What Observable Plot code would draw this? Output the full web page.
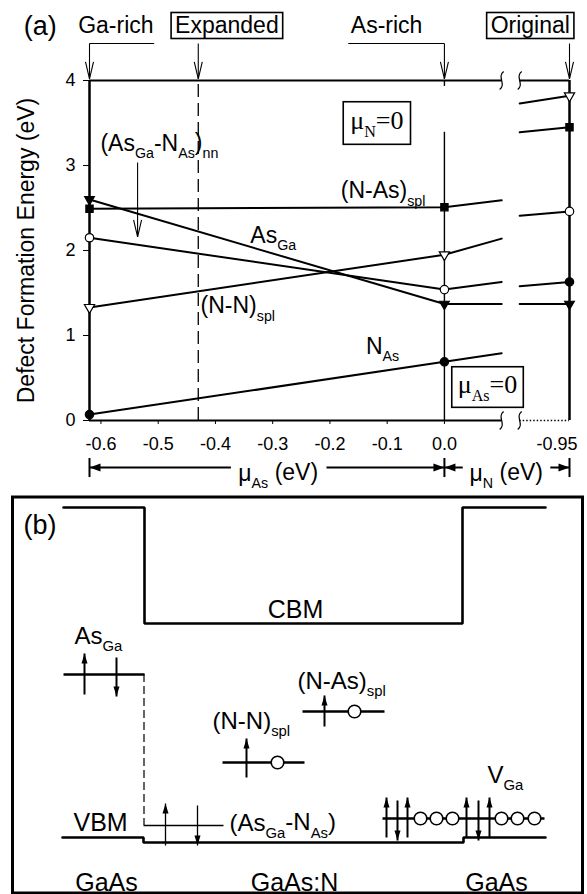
<!DOCTYPE html>
<html>
<head>
<meta charset="utf-8">
<script src="https://cdn.jsdelivr.net/npm/d3@7"></script>
<script src="https://cdn.jsdelivr.net/npm/@observablehq/plot@0.6"></script>
<style>
  html, body { margin: 0; padding: 0; background: #fff; }
  #fig { width: 587px; height: 894px; overflow: hidden; }
  #fig svg { display: block; }
</style>
</head>
<body>
<div id="fig"></div>
<script>
// ================= Panel (a): defect formation energies =================
const defects    = ["As_{Ga}", "(N-As)_{spl}", "(As_{Ga}-N_{As})_{nn}", "(N-N)_{spl}", "N_{As}"];
const muAsGaRich = -0.62;            // Ga-rich limit (eV)
const muAsAsRich = 0.0;              // As-rich limit (eV)
const muNOriginal = -0.95;           // "Original" N chemical potential (eV)
const muNBreak   = [-0.10, -0.863];  // part of the mu_N axis hidden by the break
const muExpanded = -0.43;            // "Expanded" limit
const eGaRich    = [2.60, 2.49, 2.15, 1.33, 0.07];  // at mu_As = -0.62
const eAsRich    = [1.37, 2.51, 1.54, 1.95, 0.69];  // at mu_As = 0, mu_N = 0
const eBreakLo   = [1.37, 2.59, 1.63, 2.14, 0.79];  // at mu_N = -0.10
const eBreakHi   = [1.37, 3.39, 2.41, 3.73, 1.58];  // at mu_N = -0.863
const eOriginal  = [1.37, 3.45, 2.46, 3.82, 1.63];  // at mu_N = -0.95
const muAsTicks  = [-0.6, -0.5, -0.4, -0.3, -0.2, -0.1, 0.0];
const energyTicks = [0, 1, 2, 3, 4];

const limitLabels      = ["Ga-rich", "As-rich"];
const boxedLimitLabels = ["Expanded", "Original"];
const muZeroLabels     = ["μ_{N}=0", "μ_{As}=0"];
const axisNames        = ["μ_{As} (eV)", "μ_{N} (eV)"];
const yLabel           = "Defect Formation Energy (eV)";

// ================= Panel (b): level schematic =================
const bandX      = [63, 144, 144, 462, 462, 545];
const cbmE       = [387, 387, 271, 271, 387, 387];
const vbmX       = [62, 143, 143, 463, 463, 545];
const vbmE       = [57, 57, 52, 52, 57, 57];
const levelNames = ["As_{Ga}", "(As_{Ga}-N_{As})", "(N-N)_{spl}", "(N-As)_{spl}", "V_{Ga}"];
const levelX1    = [63, 143, 222, 302, 382];
const levelX2    = [144, 223, 304, 384, 544];
const levelE     = [220, 69, 132, 183, 76];
const spinUpX    = [84, 165, 246, 324, 386, 407, 466, 489];
const spinUpLo   = [200, 49, 117, 168, 57, 57, 57, 57];
const spinUpHi   = [241, 91, 156, 199, 97, 97, 97, 97];
const spinDnX    = [116, 197, 397, 478];
const spinDnHi   = [237, 89, 94, 94];
const spinDnLo   = [198, 49, 54, 54];
const holeX      = [277, 354, 420, 436, 452, 501, 517, 534];
const holeE      = [132, 183, 76, 76, 76, 76, 76, 76];
const regionNames = ["GaAs", "GaAs:N", "GaAs"];

// ---------------------------------------------------------------------
const sans  = "'Liberation Sans', Arial, Helvetica, sans-serif";
const serif = "'Liberation Serif', 'Times New Roman', serif";
const brk = 0.0315;  // display width of the axis break (in eV of the mu_As scale)
function xN(mu) { return mu >= muNBreak[0] ? -mu : -muNBreak[0] + brk + (muNBreak[1] - mu); }
const xRight = xN(muNOriginal), xCutLo = xN(muNBreak[0]), xCutHi = xN(muNBreak[1]);

const lineRows = defects.flatMap((d, i) => [
  {d, s: "a", x: muAsGaRich, e: eGaRich[i]},
  {d, s: "a", x: muAsAsRich, e: eAsRich[i]},
  {d, s: "a", x: xCutLo, e: eBreakLo[i]},
  {d, s: "b", x: xCutHi, e: eBreakHi[i]},
  {d, s: "b", x: xRight, e: eOriginal[i]}
]);
const markerRows = defects.flatMap((d, i) => [
  {i, x: muAsGaRich, e: eGaRich[i]},
  {i, x: muAsAsRich, e: eAsRich[i]},
  {i, x: xRight, e: eOriginal[i]}
]);
const markerStyle = [
  {symbol: "triangle", rotate: 180, fill: "black", r: 3.6},
  {symbol: "square", rotate: 0, fill: "black", r: 4.1},
  {symbol: "circle", rotate: 0, fill: "white", r: 4.2},
  {symbol: "triangle", rotate: 180, fill: "white", r: 3.8},
  {symbol: "circle", rotate: 0, fill: "black", r: 4.2}
];

// custom symbols
const vHead = {draw(c) { c.moveTo(-4, -17); c.lineTo(0, 0); c.lineTo(4, -17); }};
const headWide = {draw(c) { c.moveTo(0, 0); c.lineTo(4, 11); c.lineTo(-4, 11); c.closePath(); }};
const headNarrow = {draw(c) { c.moveTo(0, 0); c.lineTo(3, 10); c.lineTo(-3, 10); c.closePath(); }};
const breakMark = {draw(c) { c.moveTo(2, -9); c.bezierCurveTo(-5, -4, 5, 4, -2, 9); }};

// annotation geometry (data units of panel a)
const yAnnBase = 4.553, yAnnLine = 4.435, yAnnTip = 4.02;
const topText = [
  {t: limitLabels[0], x: -0.574}, {t: limitLabels[1], x: -0.101}
];
const topBoxed = [
  {t: boxedLimitLabels[0], x: -0.380}, {t: boxedLimitLabels[1], x: 0.150}
];
const annArrows = [
  {x: muAsGaRich, y1: yAnnLine, y2: yAnnTip},
  {x: muExpanded, y1: yAnnLine, y2: yAnnTip},
  {x: muAsAsRich, y1: yAnnLine, y2: yAnnTip},
  {x: xRight, y1: yAnnLine, y2: yAnnTip},
  {x: -0.536, y1: 3.035, y2: 2.16}
];
const annLinks = [{x1: -0.507, x2: muAsGaRich}, {x1: -0.168, x2: muAsAsRich}];
const defectLabelPos = [
  {t: defects[0], x: -0.339, y: 2.094},
  {t: defects[1], x: -0.181, y: 2.612},
  {t: defects[2], x: -0.601, y: 3.176},
  {t: defects[3], x: -0.426, y: 1.259},
  {t: defects[4], x: -0.137, y: 0.788}
];
const muZeroPos = [{t: muZeroLabels[0], x: -0.118, y: 3.53}, {t: muZeroLabels[1], x: 0.0753, y: 0.424}];
const rowBars = [muAsGaRich, muAsAsRich, xRight];
const rowY = -0.553;
const rowArrows = [
  {from: -0.373, to: muAsGaRich}, {from: -0.206, to: muAsAsRich},
  {from: 0.032, to: muAsAsRich}, {from: 0.185, to: xRight}
];
const rowText = [{t: axisNames[0], x: -0.36}, {t: axisNames[1], x: 0.044}];

const chartA = Plot.plot({
  width: 587, height: 495,
  marginLeft: 89, marginRight: 18, marginTop: 80, marginBottom: 75,
  x: {domain: [muAsGaRich, xRight]},
  y: {domain: [0, 4]},
  style: {fontFamily: sans, fontSize: "18px", color: "black", background: "white", overflow: "visible"},
  marks: [
    Plot.ruleX([muExpanded], {y1: 0, y2: 4, strokeWidth: 1.3, strokeDasharray: "13,6"}),
    Plot.ruleX([muAsAsRich], {y1: 0, y2: 3.39, strokeWidth: 1.4}),
    Plot.ruleX([muAsAsRich], {y1: 3.93, y2: 4, strokeWidth: 1.4}),
    Plot.ruleX([muAsGaRich, xRight], {y1: 0, y2: 4, strokeWidth: 2.5}),
    Plot.ruleY([{a: muAsGaRich, b: xCutLo}, {a: xCutHi, b: xRight}], {y: 4, x1: "a", x2: "b", strokeWidth: 2.2}),
    Plot.ruleY([{a: muAsGaRich, b: xCutLo}], {y: 0, x1: "a", x2: "b", strokeWidth: 2}),
    Plot.ruleY([{a: xCutHi, b: xRight}], {y: 0, x1: "a", x2: "b", strokeWidth: 1.3, strokeDasharray: "1.5,2"}),
    Plot.dot([xCutLo, xCutHi].flatMap(x => [{x, y: 4}, {x, y: 0}]),
      {x: "x", y: "y", symbol: breakMark, fill: "none", stroke: "black", strokeWidth: 1.2, r: 5}),
    Plot.line(lineRows, {x: "x", y: "e", z: d => d.d + d.s, stroke: "black", strokeWidth: 2}),
    ...markerStyle.map((m, i) => Plot.dot(markerRows.filter(r => r.i === i),
      {x: "x", y: "e", symbol: m.symbol, rotate: m.rotate, fill: m.fill, stroke: "black", strokeWidth: 1.2, r: m.r})),
    Plot.axisY({ticks: energyTicks, tickSize: 6, tickPadding: 8, tickFormat: d => String(d), label: null, fontSize: 18}),
    Plot.axisX({ticks: muAsTicks, tickSize: 4, tickPadding: 13, tickFormat: d => d.toFixed(1), label: null, fontSize: 18}),
    Plot.text([muNOriginal], {x: d => xN(d), y: 0, text: d => d.toFixed(2), textAnchor: "end", lineAnchor: "top", dx: 8, dy: 17, fontSize: 18}),
    Plot.text([yLabel], {x: -0.73, y: 2.0, rotate: -90, textAnchor: "middle", lineAnchor: "middle", fontSize: 23}),
    // panel label and top annotations
    Plot.text(["(a)"], {x: -0.735, y: 4.53, textAnchor: "start", lineAnchor: "bottom", fontSize: 27}),
    Plot.text(topText, {x: "x", y: yAnnBase, text: "t", lineAnchor: "bottom", fontSize: 23}),
    Plot.text(topBoxed, {x: "x", y: yAnnBase, text: "t", lineAnchor: "bottom", fontSize: 23}),
    Plot.link(annLinks, {x1: "x1", x2: "x2", y1: yAnnLine, y2: yAnnLine, strokeWidth: 1.1}),
    Plot.link(annArrows, {x1: "x", x2: "x", y1: "y1", y2: "y2", strokeWidth: 1.1}),
    Plot.dot(annArrows, {x: "x", y: "y2", symbol: vHead, fill: "none", stroke: "black", strokeWidth: 1.1, r: 5}),
    Plot.text(defectLabelPos, {x: "x", y: "y", text: "t", textAnchor: "start", lineAnchor: "bottom", fontSize: 23}),
    Plot.text(muZeroPos, {x: "x", y: "y", text: "t", fontFamily: serif, fontSize: 26}),
    // mu axis row
    Plot.ruleX(rowBars, {y1: -0.447, y2: -0.671, strokeWidth: 2}),
    Plot.link(rowArrows, {x1: "from", x2: "to", y1: rowY, y2: rowY, strokeWidth: 2}),
    Plot.dot(rowArrows, {x: "to", y: rowY, symbol: headWide, rotate: d => d.to < d.from ? -90 : 90, fill: "black", stroke: "none", r: 5}),
    Plot.text(rowText, {x: "x", y: -0.706, text: "t", textAnchor: "start", lineAnchor: "bottom", fontSize: 23})
  ]
});

// ---------- Panel (b) ----------
const cbmRows = bandX.map((x, i) => ({x, e: cbmE[i]}));
const vbmRows = vbmX.map((x, i) => ({x, e: vbmE[i]}));
const levelRows = levelNames.map((n, i) => ({n, x1: levelX1[i], x2: levelX2[i], e: levelE[i]}));
const upRows = spinUpX.map((x, i) => ({x, lo: spinUpLo[i], hi: spinUpHi[i], thin: i === 1}));
const dnRows = spinDnX.map((x, i) => ({x, lo: spinDnLo[i], hi: spinDnHi[i], thin: i === 1}));
const holeRows = holeX.map((x, i) => ({x, e: holeE[i]}));
const labelsB = [
  {t: "(b)", x: 23, e: 361, a: "start", f: 27},
  {t: "CBM", x: 295, e: 277, a: "middle", f: 25},
  {t: levelNames[0], x: 74, e: 251, a: "start", f: 24},
  {t: levelNames[3], x: 297, e: 206, a: "start", f: 24},
  {t: levelNames[2], x: 212, e: 166, a: "start", f: 24},
  {t: "VBM", x: 73, e: 64, a: "start", f: 25},
  {t: levelNames[1], x: 229, e: 64, a: "start", f: 24},
  {t: levelNames[4], x: 487, e: 112, a: "start", f: 24},
  {t: regionNames[0], x: 106, e: 4, a: "middle", f: 25},
  {t: regionNames[1], x: 294, e: 4, a: "middle", f: 25},
  {t: regionNames[2], x: 496, e: 4, a: "middle", f: 25}
];

const chartB = Plot.plot({
  width: 587, height: 399,
  marginLeft: 12, marginRight: 5, marginTop: 1.5, marginBottom: 1.5,
  x: {domain: [12, 582], axis: null},
  y: {domain: [1.5, 397.5], axis: null},
  style: {fontFamily: sans, fontSize: "24px", color: "black", background: "white", overflow: "visible"},
  marks: [
    Plot.frame({strokeWidth: 3}),
    Plot.line(cbmRows, {x: "x", y: "e", strokeWidth: 2.6, strokeLinejoin: "miter"}),
    Plot.line(vbmRows, {x: "x", y: "e", strokeWidth: 2.6, strokeLinejoin: "miter"}),
    Plot.ruleX([levelX1[1] + 0.5], {y1: levelE[0], y2: levelE[1], strokeWidth: 1.2, strokeDasharray: "8,4"}),
    Plot.link(levelRows.filter((d, i) => i !== 1), {x1: "x1", x2: "x2", y1: "e", y2: "e", strokeWidth: 2.6}),
    Plot.link(levelRows.filter((d, i) => i === 1), {x1: "x1", x2: "x2", y1: "e", y2: "e", strokeWidth: 1.6}),
    Plot.link(upRows, {x1: "x", x2: "x", y1: "lo", y2: "hi", strokeWidth: d => d.thin ? 1.3 : 2}),
    Plot.dot(upRows, {x: "x", y: "hi", symbol: headNarrow, fill: "black", stroke: "none", r: 4}),
    Plot.link(dnRows, {x1: "x", x2: "x", y1: "hi", y2: "lo", strokeWidth: d => d.thin ? 1.3 : 2}),
    Plot.dot(dnRows, {x: "x", y: "lo", symbol: headNarrow, rotate: 180, fill: "black", stroke: "none", r: 4}),
    Plot.dot(holeRows, {x: "x", y: "e", r: 6.3, fill: "white", stroke: "black", strokeWidth: 1.6}),
    ...labelsB.map(l => Plot.text([l], {x: "x", y: "e", text: "t", textAnchor: l.a, lineAnchor: "bottom", fontSize: l.f}))
  ]
});

const fig = document.getElementById("fig");
fig.appendChild(chartA);
fig.appendChild(chartB);

// ---- subscripts: "_{...}" -> lowered, smaller tspans ----
const NS = "http://www.w3.org/2000/svg";
function applySubscripts(root) {
  root.querySelectorAll("text").forEach(t => {
    const s = t.textContent;
    if (!s.includes("_{")) return;
    while (t.firstChild) t.removeChild(t.firstChild);
    const re = /_\{([^}]*)\}/g;
    let last = 0, m, shifted = false;
    const add = (str, sub) => {
      if (!str) return;
      const ts = document.createElementNS(NS, "tspan");
      ts.textContent = str;
      if (sub) {
        ts.setAttribute("font-size", "0.62em");
        ts.setAttribute("dy", shifted ? "0" : "0.53em");
        shifted = true;
      } else if (shifted) {
        ts.setAttribute("dy", "-0.33em");
        shifted = false;
      }
      t.appendChild(ts);
    };
    while ((m = re.exec(s))) { add(s.slice(last, m.index), false); add(m[1], true); last = re.lastIndex; }
    add(s.slice(last), false);
  });
}
applySubscripts(chartA);
applySubscripts(chartB);

// ---- boxes around selected labels ----
const boxPad = new Map([["Expanded", [4, 0]], ["Original", [4, 0]], ["μN=0", [7, 4]], ["μAs=0", [6, 3]]]);
chartA.querySelectorAll("text").forEach(t => {
  const p = boxPad.get(t.textContent);
  if (!p) return;
  const b = t.getBBox();
  const r = document.createElementNS(NS, "rect");
  r.setAttribute("x", b.x - p[0]);
  r.setAttribute("y", b.y - p[1]);
  r.setAttribute("width", b.width + 2 * p[0]);
  r.setAttribute("height", b.height + 2 * p[1]);
  r.setAttribute("fill", "none");
  r.setAttribute("stroke", "black");
  r.setAttribute("stroke-width", "1.6");
  if (t.getAttribute("transform")) r.setAttribute("transform", t.getAttribute("transform"));
  t.parentNode.insertBefore(r, t);
});
</script>
</body>
</html>
